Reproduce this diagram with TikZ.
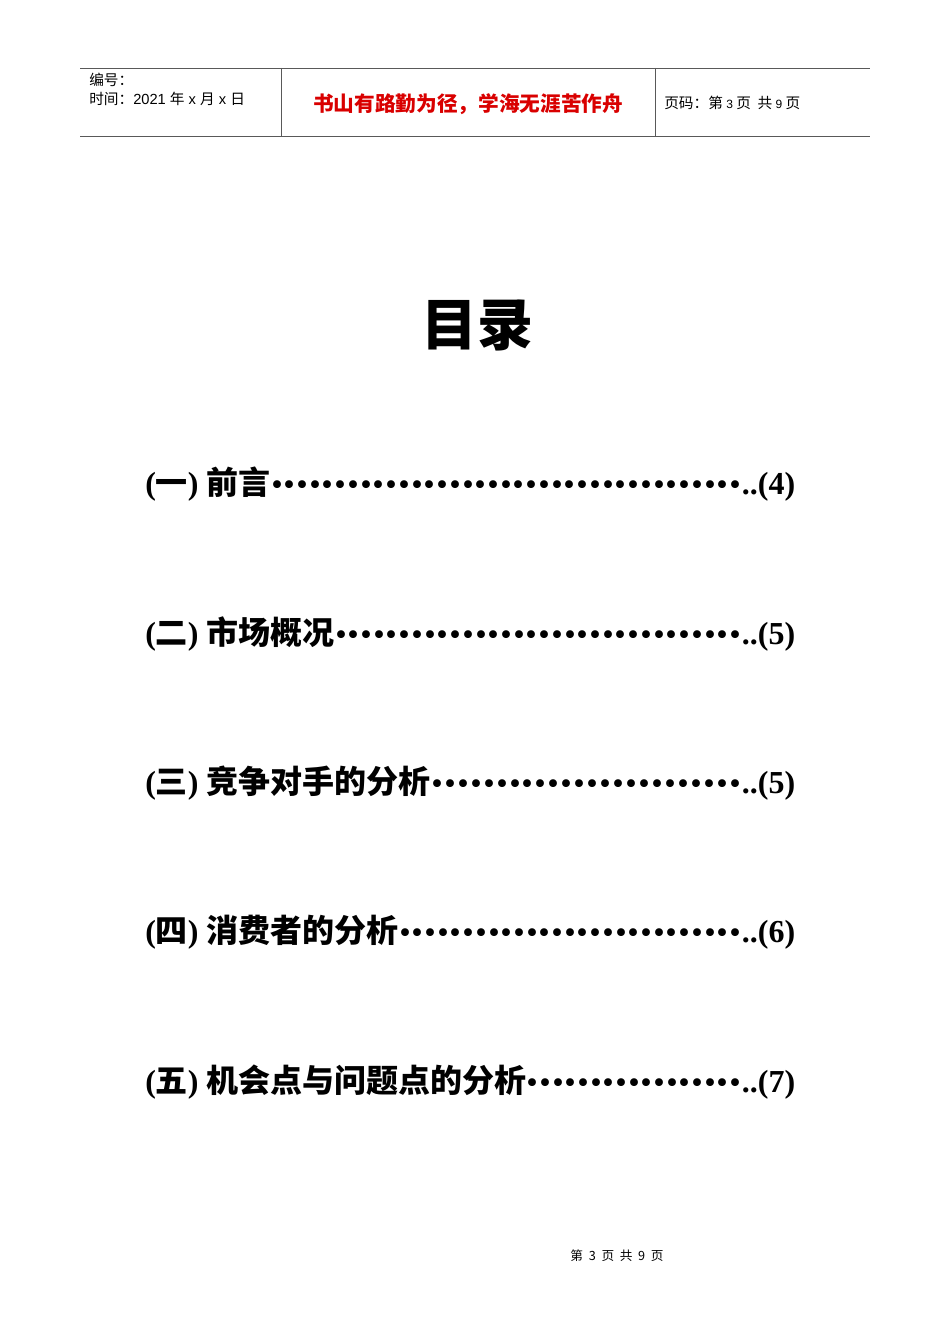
\documentclass[tikz,border=0pt]{standalone}
\usepackage{fontspec}
\setmainfont{Liberation Serif}
\newfontfamily\cjk{Noto Sans CJK SC}
\newfontfamily\hsans{Liberation Sans}
\tikzset{
  hdr/.style={anchor=west,inner sep=0pt,font=\cjk\fontsize{11}{13}\selectfont},
  entry/.style={anchor=west,inner sep=0pt,font=\fontsize{24}{28}\selectfont\bfseries},
}
\newcommand{\tocline}[2]{\parbox{487.5pt}{#1\xleaders\hbox to 9.4pt{\hss\raisebox{-4.5pt}{\scalebox{1.5}{·}}\hss}\hfill..(#2)}}
\begin{document}
\begin{tikzpicture}[x=0.75pt,y=-0.75pt]
\useasboundingbox[fill=white] (0,0) rectangle (950,1344);
\draw[gray!70!black,line width=0.6pt] (80,68) coordinate (tl) -- (870,68) coordinate (tr);
\draw[gray!70!black,line width=0.6pt] (80,136) coordinate (bl) -- (870,136) coordinate (br);
\draw[gray!70!black,line width=0.6pt] (281,68) coordinate (v1a) -- (281,136) coordinate (v1b);
\draw[gray!70!black,line width=0.6pt] (655,68) coordinate (v2a) -- (655,136) coordinate (v2b);
\node[hdr] (n1) at (89,80) {编号：};
\node[hdr] (n2) at (89,99) {时间：{\hsans 2021 }年{\hsans\ x }月{\hsans\ x }日};
\node[inner sep=0pt,text=red!85!black,font=\cjk\bfseries\fontsize{15.5}{18}\selectfont] (motto) at (468,104) {书山有路勤为径，学海无涯苦作舟};
\node[hdr] (pg) at (664,103) {页码：第{\hsans\small\ 3 }页\ \ 共{\hsans\small\ 9 }页};
\node[inner sep=0pt,font=\cjk\bfseries\fontsize{42}{46}\selectfont] (title) at (477,325) {目录};
\node[entry] (e1) at (145,484) {\tocline{({\cjk 一}) {\cjk 前言}}{4}};
\node[entry] (e2) at (145,634) {\tocline{({\cjk 二}) {\cjk 市场概况}}{5}};
\node[entry] (e3) at (145,783) {\tocline{({\cjk 三}) {\cjk 竞争对手的分析}}{5}};
\node[entry] (e4) at (145,932) {\tocline{({\cjk 四}) {\cjk 消费者的分析}}{6}};
\node[entry] (e5) at (145,1082) {\tocline{({\cjk 五}) {\cjk 机会点与问题点的分析}}{7}};
\node[inner sep=0pt,font=\cjk\fontsize{9.5}{11}\selectfont] (foot) at (617,1256) {第\ \ 3\ \ 页\ \ 共\ \ 9\ \ 页};
\end{tikzpicture}
\end{document}
